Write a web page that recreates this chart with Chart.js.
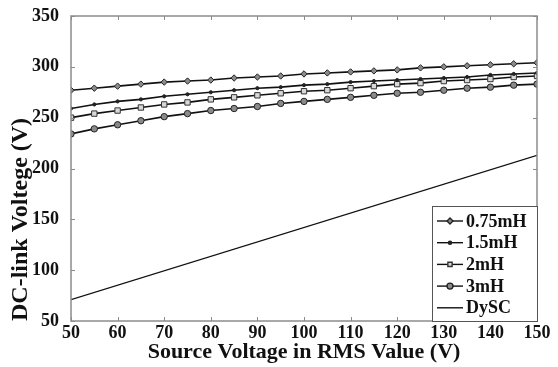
<!DOCTYPE html>
<html>
<head>
<meta charset="utf-8">
<script src="https://cdn.jsdelivr.net/npm/chart.js@4.4.0/dist/chart.umd.min.js"></script>
<style>
  html, body { margin: 0; padding: 0; background: #fff; }
  #wrap { width: 558px; height: 367px; }
</style>
</head>
<body>
<div id="wrap"><canvas id="myChart" width="558" height="367"></canvas></div>
<script>
// source voltage (V rms), one marker every 5 V
const sourceVoltage = [50, 55, 60, 65, 70, 75, 80, 85, 90, 95, 100, 105, 110, 115, 120, 125, 130, 135, 140, 145, 150];
const dc075mH = [277, 279, 281, 283, 285, 286, 287, 289, 290, 291, 293, 294, 295, 296, 297, 299, 300, 301, 302, 303, 304];
const dc15mH = [259, 263, 266, 268, 271, 273, 275, 277, 279, 280, 282, 283, 285, 286, 287, 288, 289, 290, 292, 293, 294];
const dc2mH = [250, 254, 257, 260, 263, 265, 268, 270, 272, 274, 276, 277, 279, 281, 283, 284, 286, 287, 288, 290, 291];
const dc3mH = [234, 239, 243, 247, 251, 254, 257, 259, 261, 264, 266, 268, 270, 272, 274, 275, 277, 279, 280, 282, 283];
// DySC is a straight line, only its two ends
const dyscVoltage = [50, 150];
const dcDySC = [71, 213];

const xTicks = [50, 60, 70, 80, 90, 100, 110, 120, 130, 140, 150];
const yTicks = [50, 100, 150, 200, 250, 300, 350];

const seriesNames = ["0.75mH", "1.5mH", "2mH", "3mH", "DySC"];

const FONT = "'Liberation Serif', 'Times New Roman', serif";

function pts(xs, ys) {
  return xs.map((x, i) => ({ x: x, y: ys[i] }));
}

const datasets = [
  {
    label: seriesNames[0],
    data: pts(sourceVoltage, dc075mH),
    borderColor: "#111",
    borderWidth: 1.6,
    pointStyle: "rectRot",
    pointRadius: 3.2,
    pointBackgroundColor: "#8a8a8a",
    pointBorderColor: "#222",
    pointBorderWidth: 1,
  },
  {
    label: seriesNames[1],
    data: pts(sourceVoltage, dc15mH),
    borderColor: "#111",
    borderWidth: 1.6,
    pointStyle: "circle",
    pointRadius: 1.6,
    pointBackgroundColor: "#222",
    pointBorderColor: "#222",
    pointBorderWidth: 1,
  },
  {
    label: seriesNames[2],
    data: pts(sourceVoltage, dc2mH),
    borderColor: "#111",
    borderWidth: 1.6,
    pointStyle: "rect",
    pointRadius: 3.8,
    pointBackgroundColor: "#d8d8d8",
    pointBorderColor: "#333",
    pointBorderWidth: 1,
  },
  {
    label: seriesNames[3],
    data: pts(sourceVoltage, dc3mH),
    borderColor: "#111",
    borderWidth: 1.6,
    pointStyle: "circle",
    pointRadius: 3.2,
    pointBackgroundColor: "#8a8a8a",
    pointBorderColor: "#222",
    pointBorderWidth: 1,
  },
  {
    label: seriesNames[4],
    data: pts(dyscVoltage, dcDySC),
    borderColor: "#111",
    borderWidth: 1.2,
    pointRadius: 0,
  },
];

// box around the plot + inward tick marks (matlab look)
const boxTicks = {
  id: "boxTicks",
  afterDatasetsDraw(chart) {
    const { ctx, chartArea: a, scales } = chart;
    ctx.save();
    ctx.strokeStyle = "#8c8c8c";
    ctx.lineWidth = 1.5;
    ctx.strokeRect(a.left, a.top, a.right - a.left, a.bottom - a.top);
    ctx.lineWidth = 1;
    ctx.beginPath();
    xTicks.forEach((v) => {
      const px = Math.round(scales.x.getPixelForValue(v)) + 0.5;
      ctx.moveTo(px, a.bottom);
      ctx.lineTo(px, a.bottom - 4);
      ctx.moveTo(px, a.top);
      ctx.lineTo(px, a.top + 4);
    });
    yTicks.forEach((v) => {
      const py = Math.round(scales.y.getPixelForValue(v)) + 0.5;
      ctx.moveTo(a.left, py);
      ctx.lineTo(a.left + 4, py);
      ctx.moveTo(a.right, py);
      ctx.lineTo(a.right - 4, py);
    });
    ctx.stroke();
    ctx.restore();
  },
  afterDraw(chart) {
    // legend box in the lower right corner
    const { ctx, chartArea: a } = chart;
    const w = 105, h = 115;
    const left = a.right - w, top = a.bottom - h;
    ctx.save();
    ctx.fillStyle = "#fff";
    ctx.fillRect(left, top, w, h);
    ctx.strokeStyle = "#555";
    ctx.lineWidth = 1;
    ctx.strokeRect(left + 0.5, top + 0.5, w, h);
    ctx.font = "bold 18px " + FONT;
    ctx.textBaseline = "middle";
    chart.data.datasets.forEach((ds, i) => {
      const y = top + 15 + i * 21.7;
      ctx.strokeStyle = "#111";
      ctx.lineWidth = 1.4;
      ctx.beginPath();
      ctx.moveTo(left + 5, y);
      ctx.lineTo(left + 31, y);
      ctx.stroke();
      if (ds.pointRadius > 0) {
        ctx.fillStyle = ds.pointBackgroundColor;
        ctx.strokeStyle = ds.pointBorderColor;
        Chart.helpers.drawPoint(ctx, {
          pointStyle: ds.pointStyle,
          radius: Math.min(ds.pointRadius, 3),
          borderWidth: 1,
        }, left + 18, y);
      }
      ctx.fillStyle = "#111";
      ctx.fillText(ds.label, left + 34, y + 1);
    });
    ctx.restore();
  },
};

const myChart = new Chart(document.getElementById("myChart"), {
  type: "line",
  data: { datasets: datasets },
  options: {
    responsive: false,
    animation: false,
    devicePixelRatio: 1,
    layout: { padding: { top: 16, right: 21, left: 0, bottom: 0 } },
    plugins: {
      legend: { display: false },
      tooltip: { enabled: false },
    },
    scales: {
      x: {
        type: "linear",
        min: 50,
        max: 150,
        afterFit: (s) => { s.height = 46; },
        afterBuildTicks: (s) => { s.ticks = xTicks.map((v) => ({ value: v })); },
        grid: { display: false },
        border: { display: false },
        ticks: {
          color: "#111",
          padding: -6,
          maxRotation: 0,
          font: { family: FONT, size: 18, weight: "bold" },
        },
        title: {
          display: true,
          text: "Source Voltage in RMS Value (V)",
          color: "#111",
          padding: { top: 0, bottom: 1 },
          font: { family: FONT, size: 22, weight: "bold" },
        },
      },
      y: {
        min: 50,
        max: 350,
        afterFit: (s) => { s.width = 71; },
        afterBuildTicks: (s) => { s.ticks = yTicks.map((v) => ({ value: v })); },
        grid: { display: false },
        border: { display: false },
        ticks: {
          color: "#111",
          padding: 4,
          font: { family: FONT, size: 18, weight: "bold" },
        },
        title: {
          display: true,
          text: "DC-link Voltege (V)",
          color: "#111",
          align: "start",
          padding: { top: 6, bottom: 0 },
          font: { family: FONT, size: 24, weight: "bold" },
        },
      },
    },
  },
  plugins: [boxTicks],
});
</script>
</body>
</html>
